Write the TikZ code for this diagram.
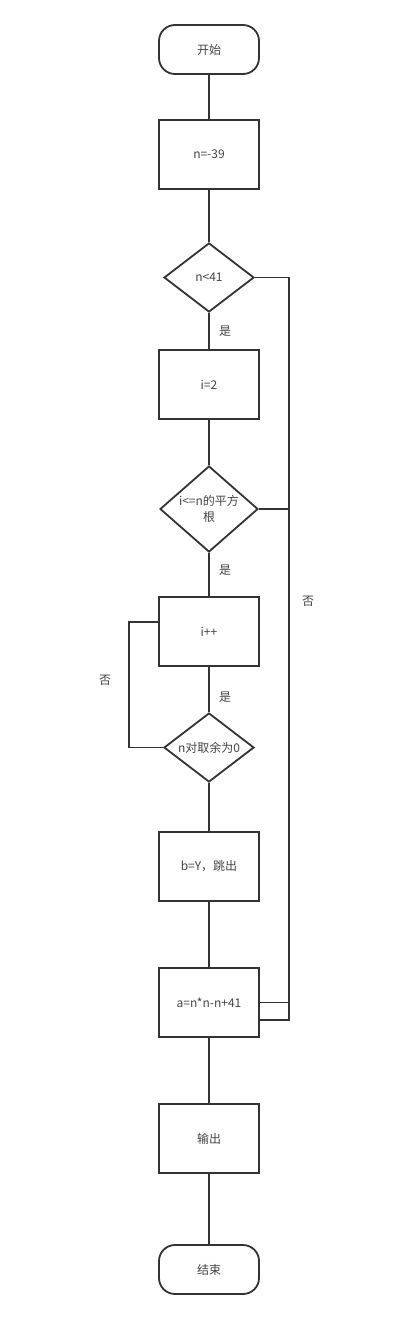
\documentclass[tikz,border=0pt]{standalone}
\usepackage{fontspec}
\setmainfont{Noto Sans CJK SC}
\usetikzlibrary{shapes.geometric,calc}
\definecolor{ln}{HTML}{333333}
\definecolor{tx}{HTML}{444444}
\tikzset{
  every node/.style={font=\fontsize{12}{15}\selectfont, text=tx},
  conn/.style={draw=ln, line width=1.8pt},
  term/.style={draw=ln, line width=1.8pt, rectangle, rounded corners=16pt, minimum width=100pt, minimum height=49pt, inner sep=0pt},
  procbox/.style={draw=ln, line width=1.8pt, rectangle, minimum width=100pt, minimum height=69pt, inner sep=0pt},
  decis/.style={draw=ln, line width=1.8pt, diamond, inner sep=0pt},
  lab/.style={inner sep=0pt}
}
\begin{document}
\begin{tikzpicture}[x=1pt,y=-1pt]
\useasboundingbox (0,0) rectangle (413,1320);
\node[term] (start) at (209,49.5) {开始};
\node[procbox] (n39) at (209,154.5) {n=-39};
\node[decis, minimum width=90pt, minimum height=69pt, label={center:n<41}] (d1) at (209,277.5) {};
\node[procbox] (i2) at (209,384.5) {i=2};
\node[decis, minimum width=98pt, minimum height=86pt, label={[align=center, font=\fontsize{12}{16}\selectfont]center:i<=n的平方\\根}] (d2) at (209,509) {};
\node[procbox] (ipp) at (209,631.5) {i++};
\node[decis, minimum width=90pt, minimum height=69pt, label={center:n对取余为0}] (d3) at (209,747.5) {};
\node[procbox] (bY) at (209,866.5) {b=Y，跳出};
\node[procbox] (aF) at (209,1002.5) {a=n*n-n+41};
\node[procbox] (out) at (209,1138.5) {输出};
\node[term] (end) at (209,1269.5) {结束};
\node[lab] (y1) at (225,331) {是};
\node[lab] (y2) at (225,570) {是};
\node[lab] (y3) at (225,697) {是};
\node[lab] (no1) at (308,601) {否};
\node[lab] (no2) at (105,680) {否};
\coordinate (rx) at (289,0);
\coordinate (lx) at (129,0);
\coordinate (aLow) at ($(aF.east)+(0,17.5)$);
\coordinate (ipUp) at ($(ipp.west)+(0,-9.5)$);
\draw[conn] (start) -- (n39);
\draw[conn] (n39) -- (d1);
\draw[conn] (d1) -- (i2);
\draw[conn] (i2) -- (d2);
\draw[conn] (d2) -- (ipp);
\draw[conn] (ipp) -- (d3);
\draw[conn] (d3) -- (bY);
\draw[conn] (bY) -- (aF);
\draw[conn] (aF) -- (out);
\draw[conn] (out) -- (end);
\draw[conn] (d1.east) -- (d1.east -| rx) -- (rx |- aLow) -- (aLow);
\draw[conn] (d2.east) -- (d2.east -| rx);
\draw[conn] (aF.east) -- (aF.east -| rx);
\draw[conn] (d3.west) -- (d3.west -| lx) -- (lx |- ipUp) -- (ipUp);
\end{tikzpicture}
\end{document}
